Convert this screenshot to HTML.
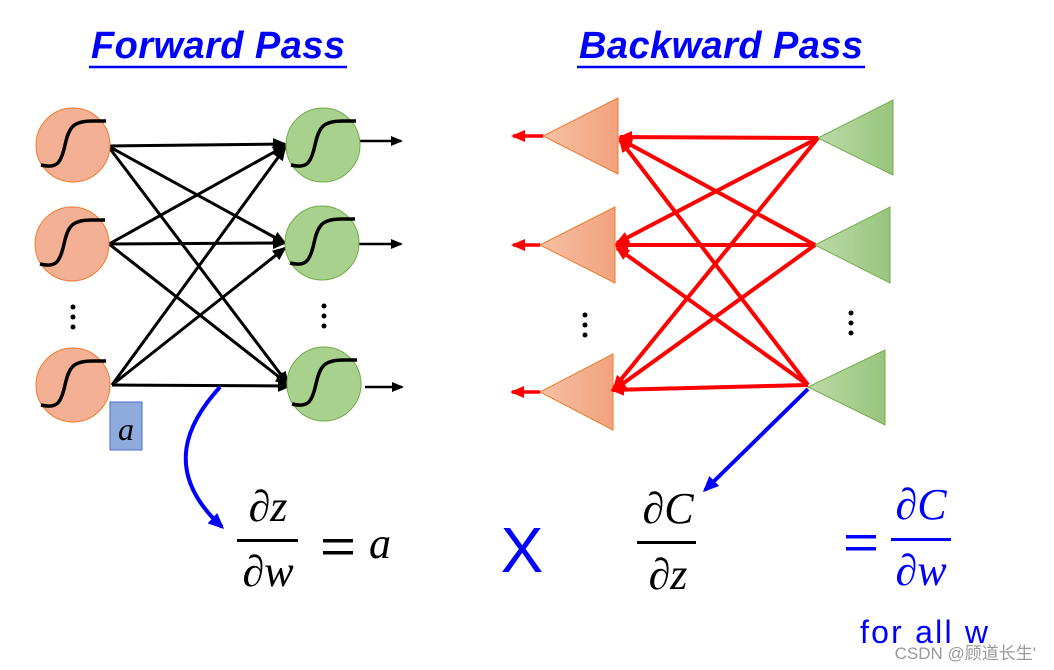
<!DOCTYPE html>
<html><head><meta charset="utf-8"><style>
body{margin:0;background:#fff;}
svg{display:block;}
text{font-family:"Liberation Serif",serif;}
</style></head><body>
<svg width="1054" height="670" viewBox="0 0 1054 670" xmlns="http://www.w3.org/2000/svg">
<defs>
<marker id="ab" markerWidth="12" markerHeight="10" refX="10" refY="5" orient="auto" markerUnits="userSpaceOnUse"><path d="M0,0 L12,5 L0,10 Z" fill="#000"/></marker>
<marker id="ar" markerWidth="14" markerHeight="12" refX="12" refY="6" orient="auto" markerUnits="userSpaceOnUse"><path d="M0,0 L14,6 L0,12 Z" fill="#f00"/></marker>
<marker id="abk" markerWidth="14" markerHeight="12" refX="12" refY="6" orient="auto" markerUnits="userSpaceOnUse"><path d="M0,0 L14,6 L0,12 Z" fill="#000"/></marker>
<marker id="abl" markerWidth="16" markerHeight="14" refX="13" refY="7" orient="auto" markerUnits="userSpaceOnUse"><path d="M0,0 L16,7 L0,14 Z" fill="#00f"/></marker>
<linearGradient id="go" x1="0" x2="1"><stop offset="0" stop-color="#f6c0a4"/><stop offset="1" stop-color="#f2a27e"/></linearGradient>
<linearGradient id="gg" x1="0" x2="1"><stop offset="0" stop-color="#bcdaa8"/><stop offset="1" stop-color="#97c57c"/></linearGradient>
<g id="sig"><path d="M-32,20 C-16,24 -12,18 -8,0 S0,-24 20,-24 L33,-24" fill="none" stroke="#000" stroke-width="3.5"/></g>
</defs>

<text x="218" y="58" text-anchor="middle" font-size="38" font-weight="bold" font-style="italic" fill="#00f" textLength="254" style="font-family:'Liberation Sans',sans-serif">Forward Pass</text>
<line x1="89" y1="67" x2="347" y2="67" stroke="#00f" stroke-width="2.5"/>
<text x="721" y="58" text-anchor="middle" font-size="38" font-weight="bold" font-style="italic" fill="#00f" textLength="284" style="font-family:'Liberation Sans',sans-serif">Backward Pass</text>
<line x1="577" y1="67" x2="865" y2="67" stroke="#00f" stroke-width="2.5"/>

<g stroke="#000" stroke-width="3" marker-end="url(#abk)">
<line x1="108" y1="146" x2="285" y2="144"/>
<line x1="108" y1="146" x2="285" y2="243"/>
<line x1="108" y1="146" x2="288" y2="384"/>
<line x1="109" y1="244" x2="285" y2="146"/>
<line x1="109" y1="244" x2="285" y2="243"/>
<line x1="109" y1="244" x2="288" y2="384"/>
<line x1="112" y1="385" x2="285" y2="148"/>
<line x1="112" y1="385" x2="285" y2="248"/>
<line x1="112" y1="385" x2="290" y2="386"/>
</g>
<g stroke="#000" stroke-width="2.5" marker-end="url(#ab)">
<line x1="360" y1="141" x2="401" y2="141"/>
<line x1="358" y1="244" x2="401" y2="244"/>
<line x1="365" y1="387" x2="402" y2="387"/>
</g>
<g stroke="#ed7d31" stroke-width="1" fill="#f4b094">
<circle cx="73" cy="145" r="37"/><circle cx="72" cy="244" r="37"/><circle cx="73" cy="385" r="37"/>
</g>
<g stroke="#70ad47" stroke-width="1" fill="#a9d18e">
<circle cx="323" cy="145" r="37"/><circle cx="322" cy="243" r="37"/><circle cx="324" cy="384" r="37"/>
</g>
<use href="#sig" x="73" y="145"/><use href="#sig" x="72" y="244"/><use href="#sig" x="73" y="385"/>
<use href="#sig" x="323" y="145"/><use href="#sig" x="322" y="243"/><use href="#sig" x="324" y="384"/>
<g fill="#000">
<circle cx="73" cy="307" r="2.5"/><circle cx="73" cy="317" r="2.5"/><circle cx="73" cy="327" r="2.5"/>
<circle cx="324" cy="306" r="2.5"/><circle cx="324" cy="316" r="2.5"/><circle cx="324" cy="326" r="2.5"/>
<circle cx="585" cy="315" r="2.5"/><circle cx="585" cy="325" r="2.5"/><circle cx="585" cy="335" r="2.5"/>
<circle cx="851" cy="313" r="2.5"/><circle cx="851" cy="323" r="2.5"/><circle cx="851" cy="333" r="2.5"/>
</g>
<rect x="110" y="402" width="32" height="48" fill="#8faadc" stroke="#4472c4" stroke-width="1"/>
<text x="126" y="440" text-anchor="middle" font-size="32" font-style="italic">a</text>
<path d="M220,387 C190,420 160,470 222,527" fill="none" stroke="#00f" stroke-width="4" marker-end="url(#abl)"/>

<g fill="url(#go)" stroke="#ed7d31" stroke-width="1">
<polygon points="543,136 618,98 618,174"/>
<polygon points="540,245 615,207 615,283"/>
<polygon points="540,392 613,354 613,430"/>
</g>
<g fill="url(#gg)" stroke="#70ad47" stroke-width="1">
<polygon points="818,138 893,100 893,175"/>
<polygon points="815,245 890,207 890,283"/>
<polygon points="808,387 885,350 885,425"/>
</g>
<g stroke="#f00" stroke-width="4" marker-end="url(#ar)">
<line x1="818" y1="138" x2="620" y2="137"/>
<line x1="818" y1="138" x2="617" y2="243"/>
<line x1="818" y1="138" x2="614" y2="388"/>
<line x1="815" y1="245" x2="620" y2="139"/>
<line x1="815" y1="245" x2="616" y2="245"/>
<line x1="815" y1="245" x2="614" y2="390"/>
<line x1="808" y1="385" x2="620" y2="140"/>
<line x1="808" y1="385" x2="617" y2="248"/>
<line x1="808" y1="385" x2="612" y2="390"/>
</g>
<g stroke="#f00" stroke-width="3.5" marker-end="url(#ar)">
<line x1="543" y1="136" x2="513" y2="136"/>
<line x1="540" y1="245" x2="513" y2="245"/>
<line x1="540" y1="392" x2="512" y2="392"/>
</g>
<line x1="808" y1="389" x2="705" y2="490" stroke="#00f" stroke-width="4" marker-end="url(#abl)"/>

<g font-size="44" font-style="italic">
<text x="268" y="521" text-anchor="middle">∂z</text>
<text x="268" y="586" text-anchor="middle">∂w</text>
<text x="668" y="523" text-anchor="middle">∂C</text>
<text x="668" y="589" text-anchor="middle">∂z</text>
<text x="921" y="519" text-anchor="middle" fill="#00f">∂C</text>
<text x="921" y="585" text-anchor="middle" fill="#00f">∂w</text>
<text x="369" y="558">a</text>
</g>
<rect x="237" y="539" width="61" height="3" fill="#000"/>
<rect x="637" y="541" width="59" height="3" fill="#000"/>
<rect x="891" y="538" width="60" height="3" fill="#00f"/>
<rect x="323" y="539" width="30" height="3.5" fill="#000"/><rect x="323" y="551" width="30" height="3.5" fill="#000"/>
<rect x="846" y="535" width="30" height="3.5" fill="#00f"/><rect x="846" y="547" width="30" height="3.5" fill="#00f"/>
<text x="522" y="572" text-anchor="middle" font-size="64" fill="#00f" style="font-family:'Liberation Sans',sans-serif">X</text>
<text x="860" y="643" font-size="32" fill="#00f" textLength="128" style="font-family:'Liberation Sans',sans-serif">for all w</text>
<text x="1036" y="659" text-anchor="end" font-size="17" fill="#999" style="font-family:'Liberation Sans','Noto Sans CJK SC',sans-serif">CSDN @顾道长生'</text>
</svg>
</body></html>
